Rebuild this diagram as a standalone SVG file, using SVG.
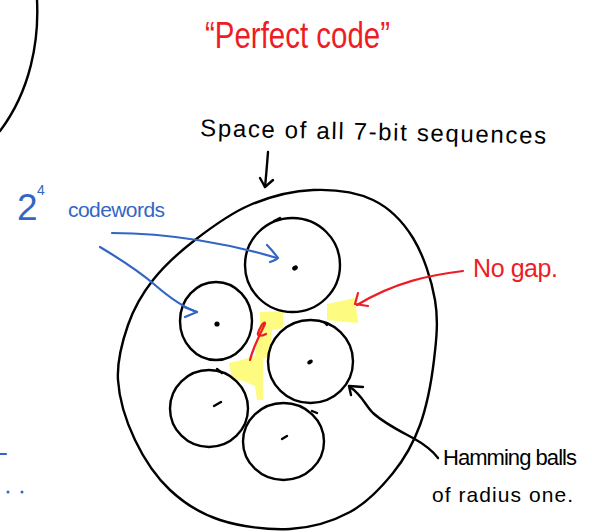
<svg xmlns="http://www.w3.org/2000/svg" width="592" height="532" viewBox="0 0 592 532">
<style>
.ink{fill:none;stroke:#000;stroke-width:2.4;stroke-linecap:round;stroke-linejoin:round}
.blue{fill:none;stroke:#3366c4;stroke-width:2.2;stroke-linecap:round;stroke-linejoin:round}
.red{fill:none;stroke:#ee1c24;stroke-width:2.2;stroke-linecap:round;stroke-linejoin:round}
.hl{fill:#fdfc80;stroke:none}
.dot{fill:#000}
.t{font-family:"Liberation Sans","DejaVu Sans",sans-serif}
.tk{fill:#000}
.tr{fill:#ee1c24}
.tb{fill:#3366c4}
</style>
<rect width="592" height="532" fill="#fff"/>
<path class="ink" d="M37,0 C39,40 31,90 0,131"/>
<g id="highlights">
<polygon class="hl" points="327,304 355,298 358,323 345,322 327,320"/>
<polygon class="hl" points="260,312 283,311 283,328 272,330 270,357 263,359 263,400 257,400 255,386 243,381 232,378 229,363 245,359 255,356 258,330 260,328"/>
</g>
<g id="space">
<path class="ink" d="M313,190 C333.5,189.2 356.3,192 373,200 C389.7,208 402.7,221.3 413,238 C423.3,254.7 431.5,279.7 435,300 C438.5,320.3 436.5,339.2 434,360 C431.5,380.8 426.8,406.2 420,425 C413.2,443.8 404.7,458.5 393,473 C381.3,487.5 367.2,502.7 350,512 C332.8,521.3 311.7,527.7 290,529 C268.3,530.3 240,526.5 220,520 C200,513.5 184.2,503.3 170,490 C155.8,476.7 143.7,458.3 135,440 C126.3,421.7 119.2,399.2 118,380 C116.8,360.8 122.2,341.7 128,325 C133.8,308.3 141.8,294.2 153,280 C164.2,265.8 178.8,252.5 195,240 C211.2,227.5 230.3,213.3 250,205 C269.7,196.7 292.5,190.8 313,190 Z"/>
</g>
<g id="ball1">
<ellipse class="ink" cx="292.5" cy="265" rx="47.5" ry="47"/>
<path class="ink" d="M274,221 L280,218"/>
<ellipse class="dot" cx="295" cy="268" rx="3" ry="2.3" transform="rotate(-30 295 268)"/>
</g>
<g id="ball2">
<ellipse class="ink" cx="216" cy="321" rx="36" ry="39"/>
<ellipse class="dot" cx="217" cy="324" rx="2.6" ry="2.6"/>
</g>
<g id="ball3">
<ellipse class="ink" cx="310.5" cy="361.5" rx="42.5" ry="41.5"/>
<path class="ink" d="M324,322 L327,325"/>
<ellipse class="dot" cx="310" cy="362" rx="3" ry="2" transform="rotate(-30 310 362)"/>
</g>
<g id="ball4">
<ellipse class="ink" cx="209" cy="408.5" rx="39" ry="38.5"/>
<path class="ink" d="M217,369 L222,373"/>
<path class="ink" d="M214,406 L221,402"/>
</g>
<g id="ball5">
<ellipse class="ink" cx="283.5" cy="441.5" rx="40.5" ry="38.5"/>
<path class="ink" d="M312,411 L317,413"/>
<path class="ink" d="M282,439 L287,436"/>
</g>
<g id="connectors">
<path class="ink" d="M268,152 C267,165 266,177 265,187"/>
<path class="ink" d="M260,178 L265,187 L273,180"/>
<path class="blue" d="M112,233 C170,233 230,244 277,258"/>
<path class="blue" d="M267,245 C272,250 275,254 278,258 C276,260 273,261 270,262"/>
<path class="blue" d="M100,247 C125,262 140,272 155,285 C170,298 185,308 197,312"/>
<path class="blue" d="M184,307 L197,312 L185,317"/>
<path class="red" d="M463,271 C430,275 395,282 357,305"/>
<path class="red" d="M358,293 L355,304 L368,306"/>
<path class="red" d="M250,360 C253,348 258,338 264,326 C267,320 262,322 258,333 C257,337 262,336 266,334"/>
<path class="ink" d="M438,458 C432,450 422,443 413,438 C402,432 385,424 373,413 C365,405 362,395 350,387"/>
<path class="ink" d="M363,387 L349,386 L351,395"/>
</g>
<g id="labels">
<text class="t tr" x="205" y="48" font-size="37" textLength="185" lengthAdjust="spacingAndGlyphs">“Perfect code”</text>
<text class="t tk" x="200" y="136" font-size="24" textLength="346" lengthAdjust="spacing" transform="rotate(1.3 200 136)">Space of all 7-bit sequences</text>
<text class="t tb" x="17" y="220" font-size="37">2</text>
<text class="t tb" x="37" y="195" font-size="14">4</text>
<text class="t tb" x="68" y="217" font-size="21" textLength="97" lengthAdjust="spacing">codewords</text>
<text class="t tr" x="473" y="277" font-size="25" textLength="85" lengthAdjust="spacing">No gap.</text>
<text class="t tk" x="443" y="465" font-size="22" textLength="134" lengthAdjust="spacing">Hamming balls</text>
<text class="t tk" x="432" y="502" font-size="21" textLength="141" lengthAdjust="spacing">of radius one.</text>
</g>
<g id="stray">
<path class="blue" d="M0,454 L6,454"/>
<circle cx="8" cy="492" r="1.5" fill="#3366c4"/>
<circle cx="22" cy="492" r="1.5" fill="#3366c4"/>
</g>
</svg>
